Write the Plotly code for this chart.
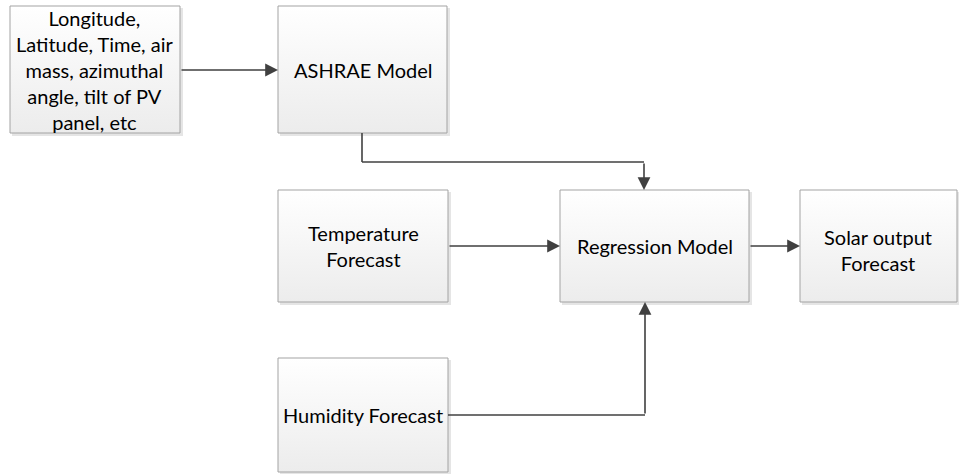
import plotly.graph_objects as go

W, H = 959, 474

# Node labels (content)
node_ids = ["inputs", "ashrae", "temp", "regression", "solar", "humidity"]
node_labels = [
    "Longitude,<br>Latitude, Time, air<br>mass, azimuthal<br>angle, tilt of PV<br>panel, etc",
    "ASHRAE Model",
    "Temperature<br>Forecast",
    "Regression Model",
    "Solar output<br>Forecast",
    "Humidity Forecast",
]
# Edges (from -> to)
edge_from = ["inputs", "ashrae", "temp", "regression", "humidity"]
edge_to = ["ashrae", "regression", "regression", "solar", "regression"]

# ---- layout geometry (pixel coordinates, y measured from top) ----
boxes = {
    "inputs": (10, 6, 180, 133),
    "ashrae": (278, 6, 447, 133),
    "temp": (278, 190, 448, 302),
    "regression": (560, 190, 749, 302),
    "solar": (800, 190, 957, 302),
    "humidity": (278, 358, 448, 472),
}
label_pos = {
    "inputs": (95, 70),
    "ashrae": (363, 70),
    "temp": (363, 246),
    "regression": (655, 246),
    "solar": (878, 250),
    "humidity": (363, 415),
}
# connector polylines; the last segment carries the arrowhead
paths = {
    ("inputs", "ashrae"): [(180, 70), (278, 70)],
    ("ashrae", "regression"): [(362, 133), (362, 162), (644, 162), (644, 190)],
    ("temp", "regression"): [(448, 246), (560, 246)],
    ("regression", "solar"): [(749, 246), (800, 246)],
    ("humidity", "regression"): [(448, 415), (645, 415), (645, 302)],
}

def Y(py):
    return H - py

fig = go.Figure()
shapes = []
annotations = []

for nid, label in zip(node_ids, node_labels):
    x0, y0, x1, y1 = boxes[nid]
    # soft shadow
    shapes.append(dict(type="rect", xref="x", yref="y", layer="below",
                       x0=x0 + 2, x1=x1 + 3, y0=Y(y1 + 3), y1=Y(y0 + 2),
                       fillcolor="rgba(0,0,0,0.10)", line=dict(width=0)))
    fig.add_trace(go.Scatter(
        x=[x0, x1, x1, x0, x0], y=[Y(y0), Y(y0), Y(y1), Y(y1), Y(y0)],
        mode="lines", fill="toself",
        fillgradient=dict(type="vertical", start=Y(y1), stop=Y(y0),
                          colorscale=[[0, "#ececec"], [1, "#ffffff"]]),
        line=dict(color="#a3a3a3", width=1),
        hoverinfo="skip", showlegend=False))
    lx, ly = label_pos[nid]
    annotations.append(dict(x=lx, y=Y(ly), xref="x", yref="y", text=label,
                            showarrow=False, align="center",
                            font=dict(family="Lato", size=20, color="#000000")))

for f, t in zip(edge_from, edge_to):
    pts = paths[(f, t)]
    for (ax_, ay_), (bx_, by_) in zip(pts[:-2], pts[1:-1]):
        shapes.append(dict(type="line", xref="x", yref="y",
                           x0=ax_, y0=Y(ay_), x1=bx_, y1=Y(by_),
                           line=dict(color="#404040", width=1.6)))
    (sx, sy), (ex, ey) = pts[-2], pts[-1]
    annotations.append(dict(x=ex, y=Y(ey), ax=sx, ay=Y(sy),
                            xref="x", yref="y", axref="x", ayref="y",
                            text="", showarrow=True, arrowhead=2,
                            arrowsize=1.6, arrowwidth=1.6,
                            arrowcolor="#404040", standoff=0))

fig.update_layout(
    width=W, height=H,
    margin=dict(l=0, r=0, t=0, b=0),
    paper_bgcolor="white", plot_bgcolor="white",
    xaxis=dict(range=[0, W], visible=False, fixedrange=True),
    yaxis=dict(range=[0, H], visible=False, fixedrange=True),
    shapes=shapes, annotations=annotations,
    showlegend=False,
)
fig.write_html("out.html",
               config={"displayModeBar": False, "staticPlot": True},
               post_script="document.body.style.margin='0px';document.body.style.overflow='hidden';")
